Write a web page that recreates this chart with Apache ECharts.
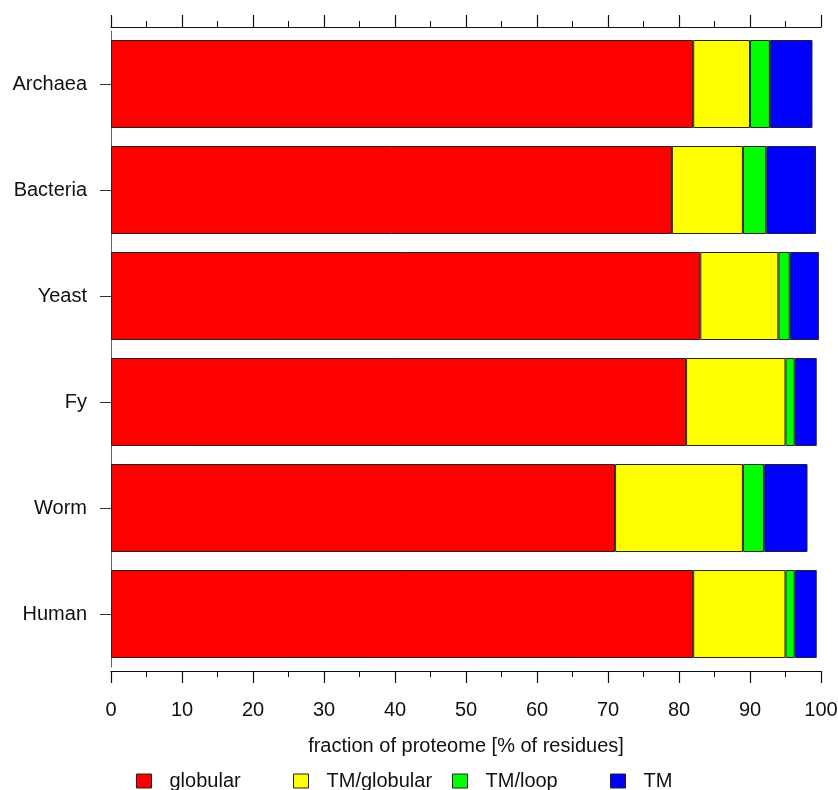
<!DOCTYPE html>
<html>
<head>
<meta charset="utf-8">
<script src="https://cdn.jsdelivr.net/npm/echarts@6/dist/echarts.min.js"></script>
<style>html,body{margin:0;padding:0;background:#fff}#c{width:838px;height:790px}</style>
</head>
<body>
<div id="c"></div>
<script>
const categories = ["Archaea", "Bacteria", "Yeast", "Fy", "Worm", "Human"];
const seriesNames = ["globular", "TM/globular", "TM/loop", "TM"];
const globular = [82, 79, 83, 81, 71, 82];
const tmGlobular = [8, 10, 11, 14, 18, 13];
const tmLoop = [2.8, 3.3, 1.6, 1.3, 3, 1.3];
const tm = [6, 7, 4.1, 3.1, 6.1, 3.1];
const colors = ["#FF0000", "#FFFF00", "#00FF00", "#0000FF"];
const xTicks = [0, 10, 20, 30, 40, 50, 60, 70, 80, 90, 100];

const values = [globular, tmGlobular, tmLoop, tm];
const font = "Liberation Sans, Arial, sans-serif";
const chart = echarts.init(document.getElementById('c'), null, {renderer: 'canvas'});

const legendLefts = [131, 288, 447, 605];
const xAxisCommon = {
  type: 'value', min: xTicks[0], max: xTicks[xTicks.length - 1], interval: 10,
  splitLine: {show: false},
  axisLine: {show: true, lineStyle: {color: '#111', width: 1.2}},
  axisTick: {show: true, length: 12, lineStyle: {color: '#111', width: 1.2}},
  minorTick: {show: true, splitNumber: 2, length: 6, lineStyle: {color: '#111', width: 1}},
  minorSplitLine: {show: false}
};

chart.setOption({
  animation: false,
  backgroundColor: '#fff',
  textStyle: {fontFamily: font},
  grid: {left: 111, right: 17, top: 31, height: 636, containLabel: false, outerBoundsMode: 'none'},
  legend: seriesNames.map((n, i) => ({
    data: [n], left: legendLefts[i], top: 766, itemWidth: 15, itemHeight: 14, itemGap: 18,
    icon: 'rect', itemStyle: {borderColor: '#222', borderWidth: 1},
    textStyle: {fontSize: 20, color: '#111', fontFamily: font, padding: [0, 0, 0, 13]},
    selectedMode: false
  })),
  xAxis: [
    Object.assign({}, xAxisCommon, {
      position: 'bottom', offset: 4,
      axisLabel: {show: true, fontSize: 20, color: '#111', margin: 29, fontFamily: font},
      name: 'fraction of proteome [% of residues]', nameLocation: 'middle', nameGap: 65,
      nameTextStyle: {fontSize: 20, color: '#111', fontFamily: font}
    }),
    Object.assign({}, xAxisCommon, {
      position: 'top', offset: 4,
      axisLabel: {show: false}
    })
  ],
  yAxis: {
    type: 'category', data: categories, inverse: true,
    axisLine: {show: true, lineStyle: {color: '#666', width: 1}},
    axisTick: {show: true, alignWithLabel: true, length: 11, lineStyle: {color: '#333'}},
    axisLabel: {fontSize: 20, color: '#111', margin: 24, fontFamily: font},
    splitLine: {show: false}
  },
  series: seriesNames.map((n, i) => ({
    name: n, type: 'bar', stack: 'all', data: values[i], xAxisIndex: 0,
    barCategoryGap: '17%',
    itemStyle: {color: colors[i], borderColor: '#222', borderWidth: 1},
    emphasis: {disabled: true}
  }))
});
</script>
</body>
</html>
